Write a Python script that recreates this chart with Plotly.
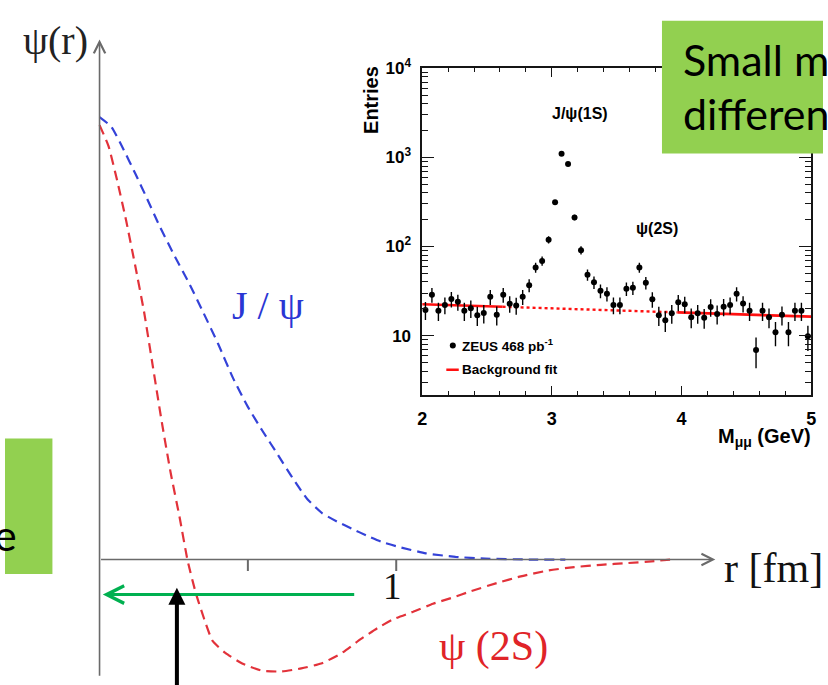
import plotly.graph_objects as go

W, H = 828, 685

# ---------------- main sketch: radial wave functions ----------------
r_jpsi = [0, 0.04, 0.08, 0.12, 0.16, 0.20, 0.25, 0.30, 0.35, 0.40, 0.45, 0.50, 0.55, 0.60,
          0.65, 0.70, 0.75, 0.80, 0.85, 0.90, 0.95, 1.00, 1.10, 1.20, 1.30, 1.45, 1.57]
psi_jpsi = [1.0, 0.978, 0.928, 0.873, 0.816, 0.757, 0.690, 0.627, 0.558, 0.487, 0.410, 0.345,
            0.290, 0.238, 0.185, 0.137, 0.105, 0.086, 0.070, 0.054, 0.040, 0.030, 0.014,
            0.006, 0.002, 0.0, 0.0]

r_psi2s = [0, 0.03, 0.06, 0.09, 0.12, 0.15, 0.18, 0.21, 0.24, 0.27, 0.297, 0.325, 0.353,
           0.381, 0.424, 0.481, 0.547, 0.614, 0.680, 0.747, 0.813, 0.880, 0.937, 0.990,
           1.057, 1.124, 1.19, 1.25, 1.34, 1.42, 1.51, 1.60, 1.69, 1.78, 1.86, 1.923]
psi_psi2s = [0.982, 0.935, 0.855, 0.765, 0.665, 0.560, 0.435, 0.310, 0.195, 0.095, -0.003,
             -0.077, -0.135, -0.184, -0.211, -0.235, -0.251, -0.253, -0.246, -0.235, -0.213,
             -0.180, -0.155, -0.135, -0.118, -0.100, -0.086, -0.072, -0.053, -0.038, -0.025,
             -0.017, -0.012, -0.008, -0.004, 0.0]

r_tick_vals = [0.5, 1.0]
r_tick_text = ["", "1"]

# ---------------- inset: ZEUS dimuon mass spectrum ----------------
mass = [2.025, 2.075, 2.125, 2.175, 2.225, 2.275, 2.325, 2.375, 2.425, 2.475,
        2.525, 2.575, 2.625, 2.675, 2.725, 2.775, 2.825, 2.875, 2.925, 2.975,
        3.025, 3.075, 3.125, 3.175, 3.225, 3.275, 3.325, 3.375, 3.425, 3.475,
        3.525, 3.575, 3.625, 3.675, 3.725, 3.775, 3.825, 3.875, 3.925, 3.975,
        4.025, 4.075, 4.125, 4.175, 4.225, 4.275, 4.325, 4.375, 4.425, 4.475,
        4.525, 4.575, 4.625, 4.675, 4.725, 4.775, 4.825, 4.875, 4.925, 4.975]
entries = [19.4, 28.8, 19.0, 22.0, 25.8, 23.9, 19.0, 20.2, 16.9, 17.9,
           27.2, 17.1, 28.8, 22.8, 21.8, 27.2, 36.8, 58.2, 68.9, 119,
           313, 1096, 843, 212, 91, 48.3, 39.7, 31.9, 29.5, 22.0,
           22.0, 33.6, 34.4, 58.2, 39.1, 25.6, 16.9, 14.9, 17.8, 23.7,
           22.5, 16.1, 17.8, 15.9, 20.9, 17.5, 21.1, 22.0, 29.5, 22.9,
           19.0, 6.9, 19.0, 16.1, 10.9, 17.1, 10.9, 19.0, 19.0, 9.8]
entries_err = [4.4, 5.4, 4.4, 4.7, 5.1, 4.9, 4.4, 4.5, 4.1, 4.2,
               5.2, 4.1, 5.4, 4.8, 4.7, 5.2, 6.1, 7.6, 8.3, 10.9,
               17.7, 33.1, 29.0, 14.6, 9.5, 7.0, 6.3, 5.6, 5.4, 4.7,
               4.7, 5.8, 5.9, 7.6, 6.3, 5.1, 4.1, 3.9, 4.2, 4.9,
               4.7, 4.0, 4.2, 4.0, 4.6, 4.2, 4.6, 4.7, 5.4, 4.8,
               4.4, 2.6, 4.4, 4.0, 3.3, 4.1, 3.3, 4.4, 4.4, 3.1]

fit_mass = [2.0, 2.62, 3.97, 5.0]
fit_entries = [22.5, 21.05, 18.2, 16.3]

mass_tick_vals = [2, 3, 4, 5]
mass_tick_text = ["2", "3", "4", "5"]
entries_tick_vals = [10, 100, 1000, 10000]
entries_tick_text = ["10", "10<sup>2</sup>", "10<sup>3</sup>", "10<sup>4</sup>"]
entries_minor_vals = [3, 4, 5, 6, 7, 8, 9, 20, 30, 40, 50, 60, 70, 80, 90,
                      200, 300, 400, 500, 600, 700, 800, 900,
                      2000, 3000, 4000, 5000, 6000, 7000, 8000, 9000]

# ---------------- geometry helpers ----------------
OX, OY, SX, SY = 95.7, 557.3, 300.3, 450.3   # pixel origin and scale of the sketch


def rd(x):
    return (x - OX) / SX


def pdv(y):
    return (OY - y) / SY


def px(x):
    return x / W


def py(y):
    return 1 - y / H


SERIF = "Liberation Serif"
SANS = "Liberation Sans"
GREEN_BOX = "#92D050"
AXIS_GREY = "#6a6a6a"

fig = go.Figure()

fig.add_trace(go.Scatter(x=r_jpsi, y=psi_jpsi, mode="lines", xaxis="x", yaxis="y",
                         line=dict(color="#3442d8", width=2.2, dash="10px,6px", shape="spline", smoothing=0.5),
                         hoverinfo="skip", showlegend=False))
fig.add_trace(go.Scatter(x=r_psi2s, y=psi_psi2s, mode="lines", xaxis="x", yaxis="y",
                         line=dict(color="#e2323a", width=2.2, dash="10px,6px", shape="spline", smoothing=0.5),
                         hoverinfo="skip", showlegend=False))

# inset background fit
fig.add_trace(go.Scatter(x=fit_mass[0:2], y=fit_entries[0:2], mode="lines", xaxis="x2", yaxis="y2",
                         line=dict(color="#ff1010", width=2.6), hoverinfo="skip", showlegend=False))
fig.add_trace(go.Scatter(x=fit_mass[1:3], y=fit_entries[1:3], mode="lines", xaxis="x2", yaxis="y2",
                         line=dict(color="#ff1010", width=2.4, dash="3px,3px"), hoverinfo="skip", showlegend=False))
fig.add_trace(go.Scatter(x=fit_mass[2:4], y=fit_entries[2:4], mode="lines", xaxis="x2", yaxis="y2",
                         line=dict(color="#ff1010", width=2.6), hoverinfo="skip", showlegend=False))
# inset data
fig.add_trace(go.Scatter(x=mass, y=entries, mode="markers", xaxis="x2", yaxis="y2",
                         marker=dict(color="black", size=6),
                         error_y=dict(type="data", array=entries_err, thickness=1.4, width=0, color="black"),
                         hoverinfo="skip", showlegend=False))
# inset legend glyphs
fig.add_trace(go.Scatter(x=[2.236], y=[7.76], mode="markers", xaxis="x2", yaxis="y2",
                         marker=dict(color="black", size=6), hoverinfo="skip", showlegend=False))
fig.add_trace(go.Scatter(x=[2.186, 2.282], y=[4.14, 4.14], mode="lines", xaxis="x2", yaxis="y2",
                         line=dict(color="#ff1010", width=2.6), hoverinfo="skip", showlegend=False))

shapes = [
    dict(type="line", xref="x", yref="y", x0=v, x1=v, y0=0, y1=pdv(569),
         line=dict(color=AXIS_GREY, width=2)) for v in r_tick_vals
]
shapes += [
    dict(type="rect", xref="paper", yref="paper", x0=0, x1=px(48), y0=py(572), y1=py(434),
         fillcolor=GREEN_BOX, line=dict(width=0), layer="above"),
    dict(type="rect", xref="paper", yref="paper", x0=px(665), x1=1.0, y0=py(144), y1=py(9),
         fillcolor=GREEN_BOX, line=dict(width=0), layer="above"),
]


def label(x, y, text, font, xanchor="center", yanchor="middle", **kw):
    return dict(x=px(x), y=py(y), xref="paper", yref="paper", text=text, showarrow=False,
                xanchor=xanchor, yanchor=yanchor, font=font, **kw)


ann = []
# axes arrows of the sketch
ann.append(dict(x=0, y=pdv(28), ax=0, ay=pdv(677), xref="x", yref="y", axref="x", ayref="y",
                text="", showarrow=True, arrowhead=5, arrowsize=1.4, arrowwidth=1.6, arrowcolor=AXIS_GREY))
ann.append(dict(x=rd(719), y=0, ax=0, ay=0, xref="x", yref="y", axref="x", ayref="y",
                text="", showarrow=True, arrowhead=5, arrowsize=1.4, arrowwidth=1.6, arrowcolor=AXIS_GREY))
# green and black arrows
ann.append(dict(x=rd(99), y=pdv(593), ax=rd(355), ay=pdv(593), xref="x", yref="y", axref="x", ayref="y",
                text="", showarrow=True, arrowhead=5, arrowsize=1.15, arrowwidth=3, arrowcolor="#00b050"))
ann.append(dict(x=rd(174), y=pdv(586), ax=rd(174), ay=pdv(700), xref="x", yref="y", axref="x", ayref="y",
                text="", showarrow=True, arrowhead=2, arrowsize=0.85, arrowwidth=4, arrowcolor="black"))
# tick label of r axis
for v, t in zip(r_tick_vals, r_tick_text):
    if t:
        ann.append(dict(x=v - 0.013, y=pdv(585), xref="x", yref="y", text=t, showarrow=False,
                        xanchor="center", yanchor="middle",
                        font=dict(family=SERIF, size=37, color="#111")))
# sketch labels
ann.append(label(51, 29, "ψ(r)", dict(family=SERIF, size=40, color="#222")))
ann.append(label(726, 566, "r [fm]", dict(family=SERIF, size=42, color="#111"), xanchor="left"))
ann.append(label(266, 299, "J / ψ", dict(family=SERIF, size=40, color="#2a36d4")))
ann.append(label(494, 646, "ψ (2S)", dict(family=SERIF, size=42, color="#e02428")))
# green box texts
GB_FONT = dict(family="Lato", size=43, color="black")
ann.append(label(684, 48, "Small mass", GB_FONT, xanchor="left"))
ann.append(label(684, 103, "difference", GB_FONT, xanchor="left"))
ann.append(label(14, 532, "e", GB_FONT, xanchor="right"))
# inset texts
BOLD = dict(family=SANS, color="black", weight="bold")
ann.append(label(582, 103, "J/ψ(1S)", dict(BOLD, size=16)))
ann.append(label(660, 220, "ψ(2S)", dict(BOLD, size=16)))
ann.append(label(461, 339, "ZEUS 468 pb<sup>-1</sup>", dict(BOLD, size=13.5), xanchor="left"))
ann.append(label(461, 364, "Background fit", dict(BOLD, size=13.5), xanchor="left"))
ann.append(label(818, 433, "M<sub>μμ</sub> (GeV)", dict(BOLD, size=20), xanchor="right"))
ann.append(label(371, 90, "Entries", dict(BOLD, size=20), textangle=-90))

inset_axis_common = dict(showline=True, linecolor="#151515", linewidth=1.5, mirror="allticks",
                         ticks="inside", tickcolor="#151515", tickwidth=1.2,
                         showgrid=False, zeroline=False, fixedrange=True,
                         tickfont=dict(family=SANS, size=18, color="black", weight="bold"))

fig.update_layout(
    width=W, height=H, margin=dict(l=0, r=0, t=0, b=0),
    paper_bgcolor="white", plot_bgcolor="rgba(0,0,0,0)",
    xaxis=dict(domain=[0, 1], range=[rd(0), rd(W)], visible=False, fixedrange=True),
    yaxis=dict(domain=[0, 1], range=[pdv(H), pdv(0)], visible=False, fixedrange=True),
    xaxis2=dict(inset_axis_common, domain=[px(422.3), px(816)], range=[2, 5], anchor="y2",
                tickvals=mass_tick_vals, ticktext=mass_tick_text, ticklen=9, ticklabelstandoff=6,
                minor=dict(ticks="inside", ticklen=4, dtick=0.2, tick0=2, tickcolor="#151515", tickwidth=1.2)),
    yaxis2=dict(inset_axis_common, domain=[py(390), py(57.3)], type="log", range=[0.331, 4], anchor="x2",
                tickvals=entries_tick_vals, ticktext=entries_tick_text, ticklen=12, ticklabelstandoff=6,
                tickfont=dict(family=SANS, size=17, color="black", weight="bold"),
                minor=dict(ticks="inside", ticklen=6, tickvals=entries_minor_vals,
                           tickcolor="#151515", tickwidth=1.2)),
    shapes=shapes,
    annotations=ann,
    showlegend=False,
)

fig.write_html("out.html", config={"displayModeBar": False},
               post_script="document.body.style.margin='0';document.body.style.overflow='hidden';")
